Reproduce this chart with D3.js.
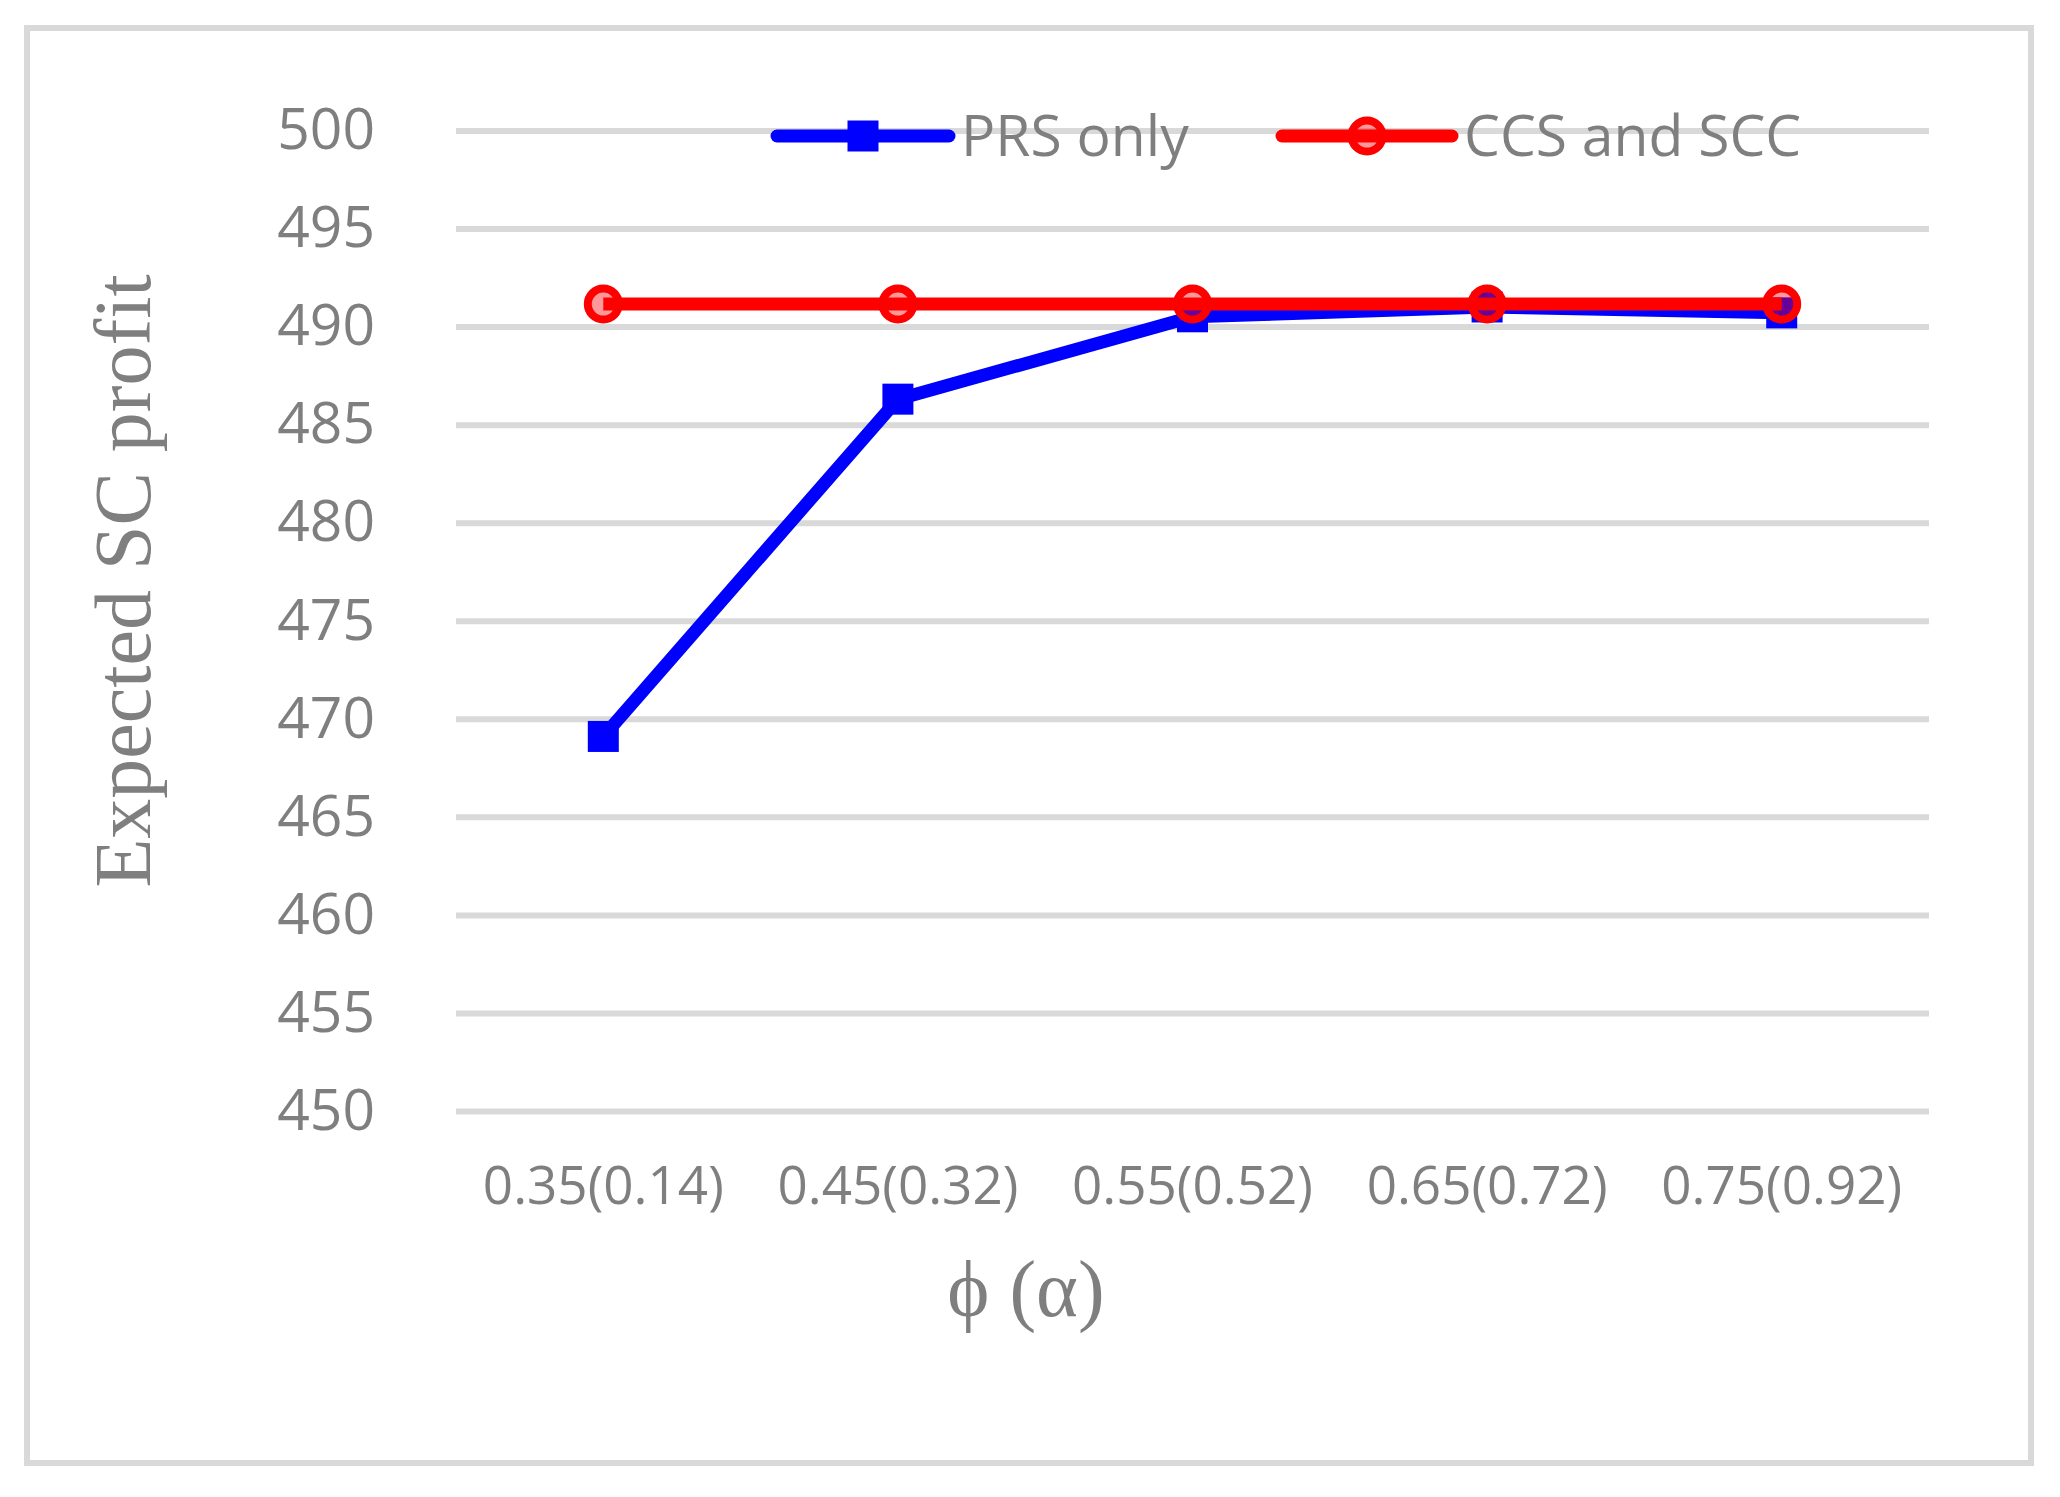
<!DOCTYPE html>
<html>
<head>
<meta charset="utf-8">
<script src="https://cdn.jsdelivr.net/npm/d3@7"></script>
<style>
  body { margin: 0; background: #fff; }
  text { fill: #7f7f7f; }
</style>
</head>
<body>
<div id="chart"></div>
<script>
  // chart data
  var categories = ["0.35(0.14)", "0.45(0.32)", "0.55(0.52)", "0.65(0.72)", "0.75(0.92)"];
  var prsOnly = [469.1, 486.3, 490.5, 491.0, 490.7];
  var ccsAndScc = [491.15, 491.15, 491.15, 491.15, 491.15];
  var yTicks = [450, 455, 460, 465, 470, 475, 480, 485, 490, 495, 500];
  var seriesNames = ["PRS only", "CCS and SCC"];

  var W = 2060, H = 1497;
  var plotLeft = 456, plotRight = 1929, plotTop = 130.5, plotBottom = 1111;

  var svg = d3.select("#chart").append("svg")
    .attr("width", W)
    .attr("height", H);

  // outer frame
  svg.append("rect")
    .attr("x", 27).attr("y", 28)
    .attr("width", 2004).attr("height", 1435)
    .attr("fill", "#fff")
    .attr("stroke", "#d9d9d9")
    .attr("stroke-width", 6);

  var x = d3.scaleBand().domain(categories).range([plotLeft, plotRight]);
  var y = d3.scaleLinear().domain([450, 500]).range([plotBottom, plotTop]);

  function cx(d, i) { return x(categories[i]) + x.bandwidth() / 2; }

  // y axis + gridlines
  var yAxis = svg.append("g")
    .attr("transform", "translate(" + plotLeft + ",0)")
    .call(d3.axisLeft(y).tickValues(yTicks).tickSize(-(plotRight - plotLeft)).tickPadding(81));
  yAxis.select(".domain").remove();
  yAxis.selectAll(".tick line")
    .attr("stroke", "#d9d9d9")
    .attr("stroke-width", 6);
  yAxis.selectAll(".tick text")
    .attr("fill", "#7f7f7f")
    .style("font-family", "'Open Sans', sans-serif")
    .style("font-size", "57px");

  // category labels
  svg.append("g").selectAll("text")
    .data(categories)
    .enter().append("text")
    .attr("x", function(d) { return x(d) + x.bandwidth() / 2; })
    .attr("y", 1204)
    .attr("text-anchor", "middle")
    .style("font-family", "'Open Sans', sans-serif")
    .style("font-size", "53px")
    .text(function(d) { return d; });

  // axis titles
  svg.append("text")
    .attr("transform", "translate(150,581) rotate(-90)")
    .attr("text-anchor", "middle")
    .style("font-family", "'Liberation Serif', serif")
    .style("font-size", "80px")
    .text("Expected SC profit");

  svg.append("text")
    .attr("x", 1026)
    .attr("y", 1316)
    .attr("text-anchor", "middle")
    .style("font-family", "'Liberation Serif', serif")
    .style("font-size", "80px")
    .text("\u03D5 (\u03B1)");

  var line = d3.line()
    .x(cx)
    .y(function(d) { return y(d); });

  // PRS only
  svg.append("path")
    .datum(prsOnly)
    .attr("d", line)
    .attr("fill", "none")
    .attr("stroke", "#0000ff")
    .attr("stroke-width", 13)
    .attr("stroke-linejoin", "round");
  svg.append("g").selectAll("rect")
    .data(prsOnly)
    .enter().append("rect")
    .attr("x", function(d, i) { return cx(d, i) - 15.5; })
    .attr("y", function(d) { return y(d) - 15.5; })
    .attr("width", 31).attr("height", 31)
    .attr("fill", "#0000ff");

  // CCS and SCC
  svg.append("path")
    .datum(ccsAndScc)
    .attr("d", line)
    .attr("fill", "none")
    .attr("stroke", "#ff0000")
    .attr("stroke-width", 13)
    .attr("stroke-linejoin", "round");
  svg.append("g").selectAll("circle")
    .data(ccsAndScc)
    .enter().append("circle")
    .attr("cx", cx)
    .attr("cy", function(d) { return y(d); })
    .attr("r", 15.5)
    .attr("fill", "rgba(255,0,0,0.4)")
    .attr("stroke", "#ff0000")
    .attr("stroke-width", 8);

  // legend
  var legendY = 136;
  var legend = svg.append("g");
  var legendItems = [
    { name: seriesNames[0], x0: 777, x1: 949, color: "#0000ff", marker: "square" },
    { name: seriesNames[1], x0: 1282, x1: 1452, color: "#ff0000", marker: "circle" }
  ];
  legendItems.forEach(function(it) {
    legend.append("line")
      .attr("x1", it.x0).attr("x2", it.x1)
      .attr("y1", legendY).attr("y2", legendY)
      .attr("stroke", it.color)
      .attr("stroke-width", 13)
      .attr("stroke-linecap", "round");
    var mx = (it.x0 + it.x1) / 2;
    if (it.marker === "square") {
      legend.append("rect")
        .attr("x", mx - 15.5).attr("y", legendY - 15.5)
        .attr("width", 31).attr("height", 31)
        .attr("fill", it.color);
    } else {
      legend.append("circle")
        .attr("cx", mx).attr("cy", legendY)
        .attr("r", 15.5)
        .attr("fill", "rgba(255,0,0,0.4)")
        .attr("stroke", it.color)
        .attr("stroke-width", 8);
    }
    legend.append("text")
      .attr("x", it.x1 + 12)
      .attr("y", legendY + 20)
      .style("font-family", "'Open Sans', sans-serif")
      .style("font-size", "57px")
      .text(it.name);
  });
</script>
</body>
</html>
